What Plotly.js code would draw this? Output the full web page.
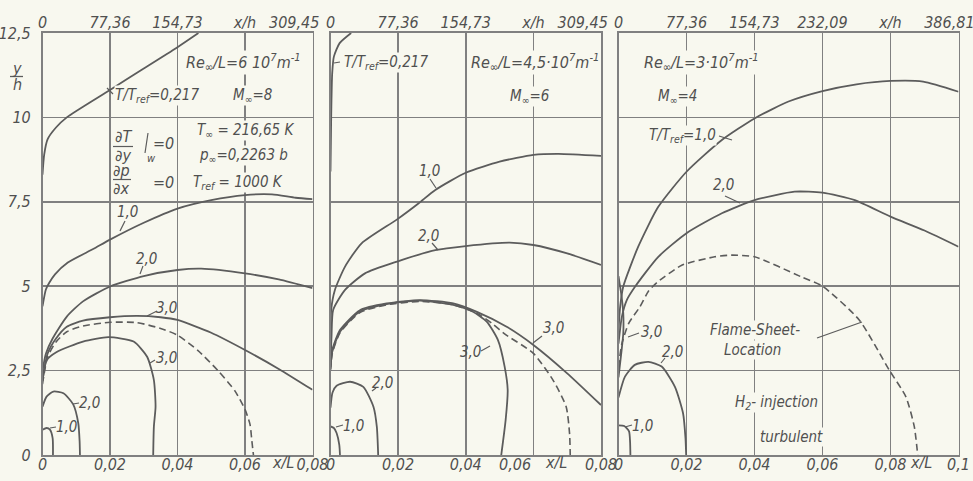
<!DOCTYPE html>
<html><head><meta charset="utf-8">
<script src="https://cdn.plot.ly/plotly-3.0.1.min.js"></script>
<style>html,body{margin:0;padding:0;background:#f8f8ef;}#c{width:973px;height:481px;}</style>
</head><body><div id="c"></div>
<script>
// ---------- data (x = x/L, y = y/h) ----------
// Panel 1: M=8, Re/L = 6e7
const p1_T0217_x=[0,0.0005,0.0015,0.004,0.0072,0.02,0.03,0.04,0.0462];
const p1_T0217_y=[8.3,8.9,9.35,9.7,10.0,10.81,11.45,12.08,12.5];
const p1_T1_x=[0,0.001,0.002,0.0037,0.0075,0.015,0.02,0.03,0.04,0.05,0.06,0.068,0.075,0.08];
const p1_T1_y=[4.4,4.9,5.1,5.35,5.7,6.1,6.38,6.88,7.3,7.55,7.7,7.72,7.62,7.58];
const p1_T2_x=[0,0.001,0.003,0.0072,0.012,0.02,0.03,0.04,0.047,0.06,0.07,0.08];
const p1_T2_y=[2.5,3.0,3.45,4.1,4.55,4.99,5.3,5.48,5.52,5.38,5.2,4.94];
const p1_T3a_x=[0,0.0015,0.004,0.0072,0.012,0.02,0.028,0.035,0.04,0.05,0.06,0.07,0.08];
const p1_T3a_y=[2.2,3.0,3.45,3.8,3.98,4.08,4.12,4.08,4.0,3.62,3.11,2.55,1.93];
const p1_flame_x=[0,0.0015,0.004,0.0072,0.012,0.02,0.028,0.035,0.04,0.046,0.052,0.057,0.06,0.0615,0.062,0.0625];
const p1_flame_y=[2.1,2.9,3.35,3.65,3.82,3.93,3.92,3.75,3.55,3.1,2.5,1.9,1.35,0.9,0.45,0];
const p1_T3b_x=[0,0.0012,0.0042,0.012,0.0195,0.027,0.031,0.033,0.0335,0.033,0.0328];
const p1_T3b_y=[2.2,2.8,3.05,3.36,3.49,3.36,2.91,2.22,1.43,0.84,0];
const p1_T2b_x=[0,0.0012,0.0032,0.0062,0.0091,0.0106,0.011,0.0111];
const p1_T2b_y=[1.43,1.73,1.88,1.83,1.5,0.94,0.4,0];
const p1_T1b_x=[0,0.0012,0.0022,0.003,0.0031];
const p1_T1b_y=[0.75,0.8,0.75,0.5,0];

// Panel 2: M=6, Re/L = 4.5e7
const p2_T0217_x=[0,0.0002,0.0005,0.001,0.0027,0.0061];
const p2_T0217_y=[8.4,10,11.3,11.8,12.2,12.5];
const p2_T1_x=[0,0.0002,0.0013,0.0043,0.0092,0.0197,0.026,0.031,0.04,0.05,0.06,0.0675,0.08];
const p2_T1_y=[3.0,4.3,4.89,5.58,6.27,6.98,7.45,7.85,8.36,8.69,8.89,8.92,8.86];
const p2_T2_x=[0,0.0003,0.0008,0.0043,0.0102,0.0197,0.031,0.04,0.053,0.06,0.07,0.08];
const p2_T2_y=[2.7,3.5,4.3,4.89,5.38,5.73,6.07,6.19,6.29,6.22,5.97,5.63];
const p2_T3a_x=[0,0.0005,0.0028,0.0087,0.0166,0.0265,0.0363,0.0433,0.0521,0.06,0.07,0.08];
const p2_T3a_y=[2.6,3.1,3.7,4.29,4.49,4.59,4.49,4.24,3.8,3.26,2.42,1.48];
const p2_T3b_x=[0,0.0005,0.0028,0.0087,0.0166,0.0265,0.0363,0.042,0.0462,0.0495,0.0515,0.0524,0.0518,0.0505];
const p2_T3b_y=[2.55,3.05,3.65,4.25,4.47,4.57,4.45,4.25,3.95,3.41,2.62,1.93,1.04,0];
const p2_flame_x=[0,0.0005,0.0028,0.0087,0.0166,0.0265,0.0363,0.0433,0.048,0.0513,0.06,0.0658,0.0697,0.0707,0.0709];
const p2_flame_y=[2.5,3.0,3.62,4.22,4.45,4.55,4.45,4.2,3.88,3.6,3.01,2.22,1.43,0.64,0];
const p2_T2b_x=[0,0.0006,0.0018,0.0058,0.0097,0.0127,0.0137,0.0141];
const p2_T2b_y=[1.4,1.85,2.05,2.17,2.02,1.43,0.84,0];
const p2_T1b_x=[0,0.001,0.0018,0.0026,0.0028];
const p2_T1b_y=[0.85,0.8,0.65,0.3,0];

// Panel 3: M=4, Re/L = 3e7
const p3_T1_x=[0,0.0005,0.0014,0.0058,0.0117,0.02,0.0304,0.04,0.05,0.06,0.07,0.08,0.0896,0.1];
const p3_T1_y=[3.7,4.4,4.99,6.17,7.35,8.39,9.33,9.97,10.47,10.78,10.98,11.08,11.06,10.76];
const p3_T2_x=[0,0.001,0.0025,0.0049,0.0117,0.02,0.0304,0.04,0.0518,0.06,0.0695,0.08,0.09,0.1];
const p3_T2_y=[3.3,4.1,4.6,4.99,5.87,6.57,7.16,7.55,7.8,7.77,7.55,7.06,6.65,6.17];
const p3_T3_x=[0,0.0008,0.0014,0.0014,0.0009,0.0003,0];
const p3_T3_y=[2.3,3.0,3.6,4.2,4.7,5.1,5.3];
const p3_flame_x=[0,0.001,0.003,0.0063,0.0088,0.0112,0.0186,0.0283,0.0332,0.04,0.0537,0.06,0.0708,0.0796,0.0845,0.087,0.088];
const p3_flame_y=[2.6,3.3,3.9,4.39,4.85,5.1,5.62,5.87,5.92,5.87,5.28,5.0,4.0,2.52,1.73,0.84,0];
const p3_T2b_x=[0,0.0019,0.0048,0.0088,0.0127,0.0166,0.019,0.0197,0.0199];
const p3_T2b_y=[1.7,2.32,2.67,2.76,2.62,2.02,1.23,0.5,0];
const p3_T1b_x=[0,0.0017,0.0031,0.0034,0.0035];
const p3_T1b_y=[0.88,0.86,0.7,0.4,0];

// tick labels
const NB='\u00a0';
const yTickVals=[0,2.5,5,7.5,10,12.5];
const yTickText=['0','2,5','5','7,5','10','12,5'];
const xTickVals12=[0,0.02,0.04,0.06,0.08];
const xTickText1=['0','0,02','0,04','0,06','0,08'];
const xTickText2=['0','0,02','0,04','0,06'+NB.repeat(8),'0,08'];
const xTickVals3=[0,0.02,0.04,0.06,0.08,0.1];
const xTickText3=['0','0,02','0,04','0,06','0,08','0,1'];
const topTickText12=['0','77,36','154,73','x/h','309,45'+NB.repeat(8)];
const topTickText3=['0','77,36','154,73','232,09','x/h','386,81'+NB.repeat(4)];

// ---------- style ----------
const W=973,H=481;
const BG='#f8f8ef', LINE='#5c5c5c', GRID='#808080', TXT='#505050';
const FONT='"Liberation Sans Narrow","DejaVu Sans Condensed","Arial Narrow","Liberation Sans",sans-serif';
function P(px,py){return {x:px/W,y:1-py/H};}

function curve(xs,ys,n,dashed){
  const s=n===1?'':String(n);
  return {x:xs,y:ys,xaxis:'x'+s,yaxis:'y'+s,type:'scatter',mode:'lines',
    line:{color:LINE,width:dashed?1.6:1.8,shape:'spline',smoothing:0.6,dash:dashed?'7px,4px':'solid'},
    hoverinfo:'skip',showlegend:false};
}
function ghost(xs,ys,xa,ya){
  return {x:xs,y:ys,xaxis:xa,yaxis:ya,type:'scatter',mode:'lines',line:{width:0},opacity:0,hoverinfo:'skip',showlegend:false};
}
const data=[
  curve(p1_T0217_x,p1_T0217_y,1),curve(p1_T1_x,p1_T1_y,1),curve(p1_T2_x,p1_T2_y,1),
  curve(p1_T3a_x,p1_T3a_y,1),curve(p1_flame_x,p1_flame_y,1,true),curve(p1_T3b_x,p1_T3b_y,1),
  curve(p1_T2b_x,p1_T2b_y,1),curve(p1_T1b_x,p1_T1b_y,1),
  curve(p2_T0217_x,p2_T0217_y,2),curve(p2_T1_x,p2_T1_y,2),curve(p2_T2_x,p2_T2_y,2),
  curve(p2_T3a_x,p2_T3a_y,2),curve(p2_T3b_x,p2_T3b_y,2),curve(p2_flame_x,p2_flame_y,2,true),
  curve(p2_T2b_x,p2_T2b_y,2),curve(p2_T1b_x,p2_T1b_y,2),
  curve(p3_T1_x,p3_T1_y,3),curve(p3_T2_x,p3_T2_y,3),curve(p3_T3_x,p3_T3_y,3),
  curve(p3_flame_x,p3_flame_y,3,true),curve(p3_T2b_x,p3_T2b_y,3),curve(p3_T1b_x,p3_T1b_y,3),
  ghost(p1_T1_x,p1_T1_y,'x4','y'),ghost(p2_T1_x,p2_T1_y,'x5','y2'),ghost(p3_T1_x,p3_T1_y,'x6','y3')
];

const tickFont={family:FONT,size:16,color:TXT,style:'italic'};
const yDom=[26/H,448/H];
function xax(dom,range,vals,text,anchor){
  return {domain:dom,range:range,anchor:anchor,tickvals:vals,ticktext:text,showgrid:true,gridcolor:GRID,gridwidth:1.5,
    showline:true,linecolor:GRID,linewidth:1.6,mirror:true,ticks:'',zeroline:false,tickfont:tickFont,fixedrange:true,
    ticklabelstandoff:-6,tickangle:0,ticklabeloverflow:'allow'};
}
function topax(over,range,vals,text,anchor){
  return {overlaying:over,side:'top',range:range,anchor:anchor,tickvals:vals,ticktext:text,showgrid:false,
    showline:false,ticks:'',zeroline:false,tickfont:tickFont,fixedrange:true,ticklabelstandoff:1,tickangle:0,ticklabeloverflow:'allow'};
}
function yax(anchor,labels){
  return {domain:yDom,range:[0,12.5],anchor:anchor,tickvals:yTickVals,ticktext:yTickText,showticklabels:labels,
    showgrid:true,gridcolor:GRID,gridwidth:1.5,showline:true,linecolor:GRID,linewidth:1.6,mirror:true,ticks:'',
    zeroline:false,tickfont:tickFont,fixedrange:true,ticklabelstandoff:7,ticklabeloverflow:'allow'};
}
const d1=[42.5/W,312.5/W], d2=[330.5/W,601/W], d3=[618.5/W,958.5/W];

// annotations (pixel positions -> paper)
const ann=[];
function T(text,px,py,size,bg){
  const p=P(px,py);
  ann.push({text:text,x:p.x,y:p.y,xref:'paper',yref:'paper',showarrow:false,xanchor:'center',yanchor:'middle',
    font:{family:FONT,size:size||15,color:TXT,style:'italic'},bgcolor:bg===false?'rgba(0,0,0,0)':BG,borderpad:0});
}
const shp=[];
function L(x0,y0,x1,y1,w){
  const a=P(x0,y0),b=P(x1,y1);
  shp.push({type:'line',xref:'paper',yref:'paper',x0:a.x,y0:a.y,x1:b.x,y1:b.y,line:{color:LINE,width:w||1.2}});
}
// y/h label
T('y',17,69,16,false); T('h',17,84,16,false); L(10,76.5,23,76.5,1.3);
// panel 1
T('Re<sub>∞</sub>/L=6 10<sup>7</sup>m<sup>-1</sup>',243,62,16);
T('T/T<sub>ref</sub>=0,217',157,95); L(107,88,113,94);
T('M<sub>∞</sub>=8',252,95);
T('∂T',123,137,16,false); T('∂y',123,155,16,false); L(113,146.5,133,146.5,1.2); L(148,133,145,153,1.2); T('w',151,158,11,false); T('=0',163,143,16,false);
T('∂p',121,170,16,false); T('∂x',121,188,16,false); L(113,179.5,131,179.5,1.2); T('=0',163,182,16,false);
T('T<sub>∞</sub> = 216,65 K',245,130);
T('p<sub>∞</sub>=0,2263 b',243,155);
T('T<sub>ref</sub> = 1000 K',238,182);
T('1,0',127,212,15,false); L(125,221,120,231);
T('2,0',146,259,15,false); L(143,266,140,274);
T('3,0',166,308,15,false); L(157,311,147,316);
T('3,0',166,358,15,false); L(155,360,150,363);
T('2,0',89,403,15,false); L(79,403,73,404);
T('1,0',66,427,15,false); L(56,427,50,428);
T('x/L',283,462,16,false);
// panel 2
T('T/T<sub>ref</sub>=0,217',386,62); L(340,62,334,63);
T('Re<sub>∞</sub>/L=4,5·10<sup>7</sup>m<sup>-1</sup>',535,62,16);
T('M<sub>∞</sub>=6',529,97);
T('1,0',429,171,15,false); L(430,179,436,188);
T('2,0',428,236,15,false); L(432,243,438,250);
T('3,0',553,328,15,false); L(542,336,533,343);
T('3,0',470,352,15,false); L(481,351,490,346);
T('2,0',382,383,15,false); L(372,391,376,388);
T('1,0',353,426,15,false); L(343,425,336,427);
T('x/L',556,462,16,false);
// panel 3
T('Re<sub>∞</sub>/L=3·10<sup>7</sup>m<sup>-1</sup>',701,62,16);
T('M<sub>∞</sub>=4',677,97);
T('T/T<sub>ref</sub>=1,0',682,135); L(719,136,732,140);
T('2,0',723,185,15,false); L(725,196,740,203);
T('3,0',651,332,15,false); L(639,333,628,337);
T('2,0',672,352,15,false); L(665,358,661,363);
T('1,0',642,426,15,false); L(632,425,625,427);
T('Flame-Sheet-',755,330); T('Location',752,350); L(817,338,862,322);
T('H<sub>2</sub>- injection',776,402);
T('turbulent',791,437);
T('x/L',921,462,16,false);

const layout={
  width:W,height:H,margin:{l:0,r:0,t:0,b:0},paper_bgcolor:BG,plot_bgcolor:BG,showlegend:false,
  xaxis:xax(d1,[0,0.08],xTickVals12,xTickText1,'y'),
  yaxis:yax('x',true),
  xaxis2:xax(d2,[0,0.08],xTickVals12,xTickText2,'y2'),
  yaxis2:yax('x2',false),
  xaxis3:xax(d3,[0,0.1],xTickVals3,xTickText3,'y3'),
  yaxis3:yax('x3',false),
  xaxis4:topax('x',[0,0.08],xTickVals12,topTickText12,'y'),
  xaxis5:topax('x2',[0,0.08],xTickVals12,topTickText12,'y2'),
  xaxis6:topax('x3',[0,0.1],xTickVals3,topTickText3,'y3'),
  annotations:ann,shapes:shp
};
Plotly.newPlot('c',data,layout,{staticPlot:true,displayModeBar:false});
</script></body></html>
